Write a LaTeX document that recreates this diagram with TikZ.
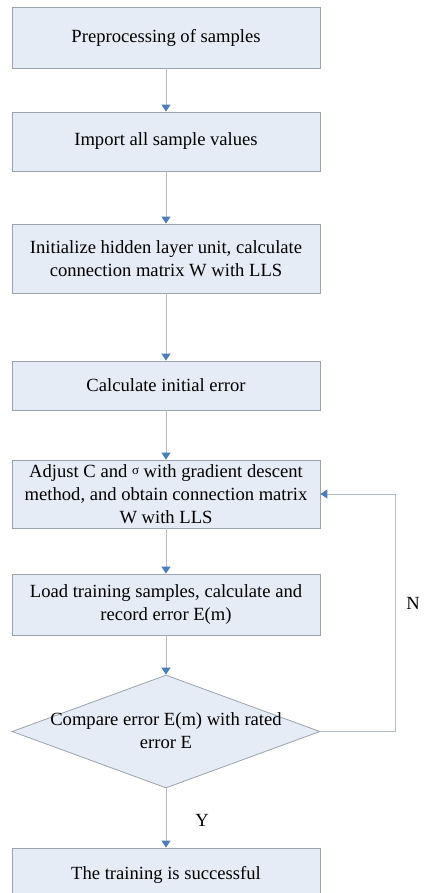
\documentclass[tikz,border=0pt]{standalone}
\usepackage{fontspec}
\setmainfont{Liberation Serif}
\usetikzlibrary{arrows.meta,shapes.geometric}
\definecolor{boxfill}{HTML}{E6ECF6}
\definecolor{boxline}{HTML}{9AA3AE}
\definecolor{conline}{HTML}{B4BCC6}
\definecolor{tipblue}{HTML}{4A7EBB}
\tikzset{
  stepbox/.style={draw=boxline, fill=boxfill, line width=0.8pt, minimum width=308pt, inner sep=0pt, align=center, font=\fontsize{18.6}{23}\selectfont},
  decbox/.style={draw=boxline, fill=boxfill, line width=0.8pt, shape=diamond, minimum width=308pt, minimum height=113pt, inner sep=0pt},
  txt/.style={align=center, font=\fontsize{18.6}{23}\selectfont, inner sep=0pt},
  conn/.style={draw=conline, line width=1pt, -{Triangle[width=9pt,length=7pt,color=tipblue]}},
}
\begin{document}
\begin{tikzpicture}[x=1pt,y=-1pt]
\useasboundingbox (0,0) rectangle (429,893);
\clip (0,0) rectangle (429,893);
\node[stepbox, minimum height=61pt] (b1) at (166,37.5) {Preprocessing of samples};
\node[stepbox, minimum height=59pt] (b2) at (166,141.5) {Import all sample values};
\node[stepbox, minimum height=69pt] (b3) at (166,258.5) {Initialize hidden layer unit, calculate\\connection matrix W with LLS};
\node[stepbox, minimum height=49pt] (b4) at (166,385.5) {Calculate initial error};
\node[stepbox, minimum height=68pt] (b5) at (166,494) {Adjust C and \raisebox{3pt}{\fontsize{13}{13}\selectfont σ} with gradient descent\\method, and obtain connection matrix\\W with LLS};
\node[stepbox, minimum height=61pt] (b6) at (166,604.5) {Load training samples, calculate and\\record error E(m)};
\node[decbox] (d) at (166,731.5) {};
\node[txt] (dt) at (166,731) {Compare error E(m) with rated\\error E};
\node[stepbox, minimum height=54pt] (b7) at (166,875) {The training is successful};
\draw[conn] (b1.south) -- (b2.north);
\draw[conn] (b2.south) -- (b3.north);
\draw[conn] (b3.south) -- (b4.north);
\draw[conn] (b4.south) -- (b5.north);
\draw[conn] (b5.south) -- (b6.north);
\draw[conn] (b6.south) -- (d.north);
\draw[conn] (d.south) -- (b7.north);
\draw[conn] (d.east) -- ++(75,0) |- (b5.east);
\node[txt] (lN) at (413,603) {N};
\node[txt] (lY) at (202,820) {Y};
\end{tikzpicture}
\end{document}
